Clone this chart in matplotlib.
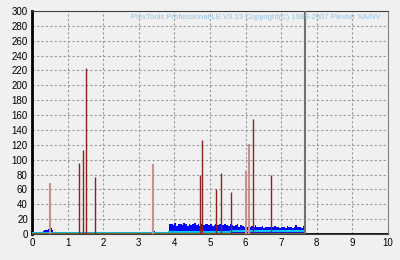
import numpy as np
from matplotlib import pyplot as plt

plt.rcParams['font.family'] = ['Liberation Sans', 'DejaVu Sans']

# PI error level sampled every 0.05 (position 0 .. 7.65)
pie = [2, 3, 2, 1, 2, 2, 4, 6, 5, 7, 8, 6, 3, 2, 1, 2, 1, 2, 2, 1,
       2, 3, 1, 2, 1, 1, 2, 1, 2, 2, 1, 2, 1, 1, 2, 1, 2, 1, 1, 2,
       1, 2, 1, 1, 2, 1, 1, 2, 3, 1, 1, 2, 1, 1, 2, 1, 1, 2, 1, 1,
       2, 1, 1, 2, 1, 1, 2, 3, 4, 3, 2, 1, 1, 2, 1, 2, 1,
       13,
       14, 12, 15, 11, 13, 14, 12, 15, 13, 11, 14, 12, 13, 15, 12, 14, 11, 13, 12, 14, 13, 12,
       13, 11, 12, 14, 12, 13, 11, 12, 13, 12, 11, 13, 12, 11, 12, 13, 10, 12, 11, 10,
       11, 10, 9, 11, 10, 12, 9, 10, 9, 11, 8, 10, 9, 10, 8, 9, 11, 9, 10, 8,
       9, 10, 8, 11, 9, 10, 8, 9, 12, 9, 10, 8, 11, 9]
step = 0.05

# cyan and olive average lines
cyan_edges = [0, 3.85, 5.6, 7.67]
cyan_vals = [2, 3, 4]
base_edges = [0, 7.67]
base_vals = [0.8]

# PI failure spikes
dark_x = [1.33, 1.43, 1.51, 1.78, 4.73, 4.78, 5.18, 5.32, 5.60, 6.22, 6.72]
dark_h = [96, 113, 223, 77, 80, 126, 61, 82, 57, 155, 80]
pink_x = [0.50, 3.40, 6.01, 6.09]
pink_h = [68, 94, 85, 121]

end_pos = 7.67

fig = plt.figure(figsize=(4, 2.6), dpi=100, facecolor='#f0f0f0')
ax = fig.add_axes([0.08, 0.1, 0.89, 0.858], facecolor='#f0f0f0')

xs = np.arange(len(pie)) * step
ax.bar(xs, pie, width=step, align='edge', color='#0000ff', linewidth=0, zorder=2)
ax.stairs(cyan_vals, cyan_edges, color='#00c8ff', linewidth=1.5, zorder=3)
ax.stairs(base_vals, base_edges, color='#806020', linewidth=1, zorder=3)

ax.vlines(pink_x, 0, pink_h, color='#c89090', linewidth=1.5, zorder=4)
ax.vlines(dark_x, 0, dark_h, color='#8b2323', linewidth=1, zorder=4)

ax.axvline(end_pos, color='#707070', linewidth=1.5, zorder=5)
ax.hlines(0, end_pos, 10, color='black', linewidth=2, zorder=5)

ax.set_xlim(0, 10)
ax.set_ylim(0, 300)
ax.set_xticks(range(0, 11))
ax.set_yticks(range(0, 301, 20))
ax.grid(True, color='#999999', linestyle=(0, (2, 2)), linewidth=0.8)
ax.set_axisbelow(True)
ax.tick_params(length=0, labelsize=7, pad=3)

ax.spines['left'].set_linewidth(2)
ax.spines['left'].set_color('black')
ax.spines['top'].set_color('#404040')
ax.spines['right'].set_color('#808080')
ax.spines['bottom'].set_color('#404040')

ax.text(9.8, 296, 'PlexTools Professional LE V3.13 Copyright(C) 1989-2007 Plexter SA/NV',
        color='#90c4e8', fontsize=5.6, ha='right', va='top', zorder=6)

fig.savefig('out.png', dpi=100, facecolor=fig.get_facecolor())
